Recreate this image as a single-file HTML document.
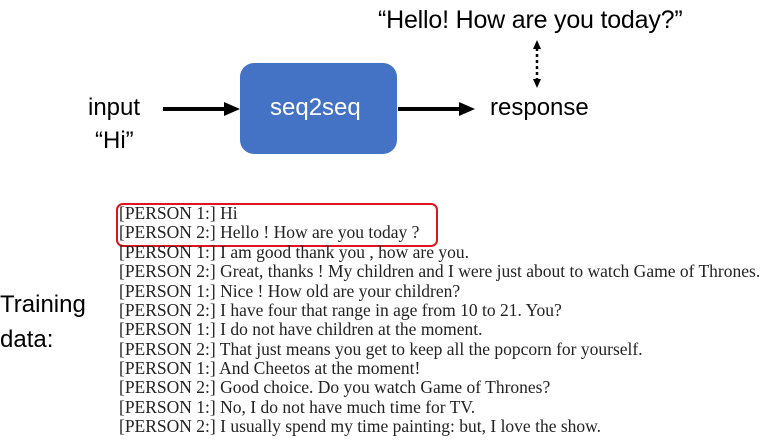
<!DOCTYPE html>
<html><head><style>
body{margin:0;width:772px;height:445px;background:#fff;position:relative;overflow:hidden}
.s{position:absolute;font-family:"Liberation Sans",sans-serif;font-size:24px;color:#000;white-space:nowrap;line-height:1}
.t{position:absolute;left:119px;font-family:"Liberation Serif",serif;font-size:17.5px;color:#222;white-space:nowrap;line-height:1}
</style></head><body>
<svg width="772" height="445" style="position:absolute;left:0;top:0">
<rect x="240" y="63" width="157" height="91" rx="14" fill="#4472C4"/>
<line x1="163" y1="109" x2="226" y2="109" stroke="#000" stroke-width="4"/>
<polygon points="224,102 240,109 224,116" fill="#000"/>
<line x1="398" y1="109" x2="461" y2="109" stroke="#000" stroke-width="4"/>
<polygon points="459,102 475,109 459,116" fill="#000"/>
<line x1="537" y1="48" x2="537" y2="80" stroke="#000" stroke-width="2.5" stroke-dasharray="3,3"/>
<polygon points="533,49 537,40 541,49" fill="#000"/>
<polygon points="533,79 537,88 541,79" fill="#000"/>
<rect x="117" y="204" width="320" height="42" rx="6" fill="none" stroke="#e0141e" stroke-width="2"/>
</svg>
<div class="s" style="left:378px;top:8px;font-size:25px;letter-spacing:-0.2px">“Hello! How are you today?”</div>
<div class="s" style="left:88px;top:96px">input</div>
<div class="s" style="left:95px;top:129px">“Hi”</div>
<div class="s" style="left:270px;top:96px;color:#fff">seq2seq</div>
<div class="s" style="left:490px;top:96px">response</div>
<div class="s" style="left:0;top:293px">Training</div>
<div class="s" style="left:0;top:328px">data:</div>
<div class="t" style="top:205px">[PERSON 1:] Hi</div>
<div class="t" style="top:224px">[PERSON 2:] Hello ! How are you today ?</div>
<div class="t" style="top:244px">[PERSON 1:] I am good thank you , how are you.</div>
<div class="t" style="top:263px">[PERSON 2:] Great, thanks ! My children and I were just about to watch Game of Thrones.</div>
<div class="t" style="top:283px">[PERSON 1:] Nice ! How old are your children?</div>
<div class="t" style="top:302px">[PERSON 2:] I have four that range in age from 10 to 21. You?</div>
<div class="t" style="top:321px">[PERSON 1:] I do not have children at the moment.</div>
<div class="t" style="top:341px">[PERSON 2:] That just means you get to keep all the popcorn for yourself.</div>
<div class="t" style="top:360px">[PERSON 1:] And Cheetos at the moment!</div>
<div class="t" style="top:379px">[PERSON 2:] Good choice. Do you watch Game of Thrones?</div>
<div class="t" style="top:399px">[PERSON 1:] No, I do not have much time for TV.</div>
<div class="t" style="top:418px">[PERSON 2:] I usually spend my time painting: but, I love the show.</div>
</body></html>
